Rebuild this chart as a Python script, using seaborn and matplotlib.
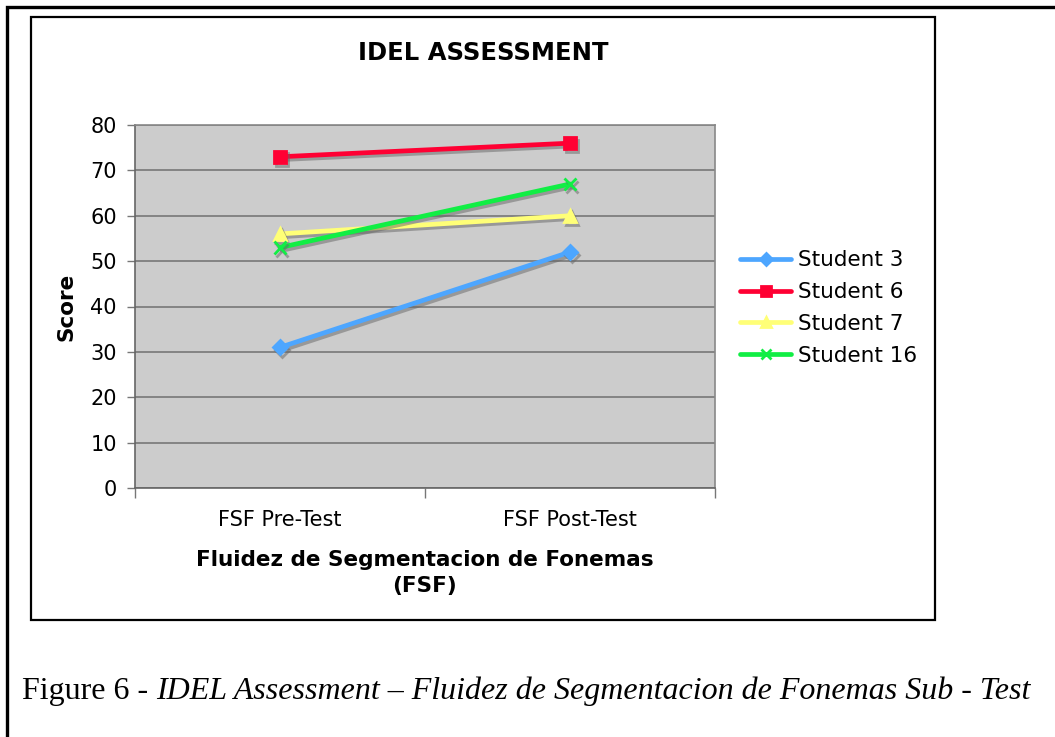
import pandas as pd
import seaborn as sns
import matplotlib.pyplot as plt
import matplotlib.patheffects as pe
from matplotlib.patches import Rectangle
from matplotlib.ticker import FixedLocator

# data
tests = ["FSF Pre-Test", "FSF Post-Test"]
students = ["Student 3", "Student 6", "Student 7", "Student 16"]
student_3 = [31, 52]
student_6 = [73, 76]
student_7 = [56, 60]
student_16 = [53, 67]

colors = ["#4DA6FF", "#FF0033", "#FFFF77", "#11EE44"]
markers = ["D", "s", "^", "x"]
msizes = [7, 9, 9, 9]

rows = []
for name, vals in zip(students, [student_3, student_6, student_7, student_16]):
    for t, v in zip(tests, vals):
        rows.append({"test": t, "score": v, "student": name})
df = pd.DataFrame(rows)

sns.set_style("white")
plt.rcParams["font.family"] = ["DejaVu Sans"]
plt.rcParams["text.color"] = "black"
plt.rcParams["xtick.color"] = "black"
plt.rcParams["ytick.color"] = "black"

W, H = 1055, 737
fig = plt.figure(figsize=(W / 100, H / 100), dpi=100)

def fx(px):
    return px / W

def fy(py):
    return 1 - py / H

# outer page box and inner chart box
fig.patches.append(Rectangle((fx(7), fy(760)), fx(1070) - fx(7), fy(7) - fy(760),
                             transform=fig.transFigure, fill=False, lw=2.4, ec="black"))
fig.patches.append(Rectangle((fx(31), fy(620)), fx(935) - fx(31), fy(17) - fy(620),
                             transform=fig.transFigure, fill=False, lw=1.6, ec="black"))

ax = fig.add_axes([fx(135), fy(488), fx(715) - fx(135), fy(125) - fy(488)])
ax.set_facecolor("#CCCCCC")

shadow = [pe.SimpleLineShadow(offset=(1.5, -2), shadow_color="#666666", alpha=0.5), pe.Normal()]
for name, c, m, s in zip(students, colors, markers, msizes):
    sub = df[df["student"] == name]
    sns.lineplot(data=sub, x="test", y="score", color=c, marker=m, lw=3.4, ms=s,
                 mew=2, mec=c, mfc=c, ax=ax, zorder=3)
    ax.lines[-1].set_path_effects(shadow)

ax.set_xlim(-0.5, 1.5)
ax.set_ylim(0, 80)
ax.set_yticks(range(0, 81, 10))
ax.yaxis.grid(True, color="#777777", lw=1.2)
ax.set_axisbelow(True)
ax.tick_params(axis="y", left=True, length=6, width=1, color="#777777",
               labelcolor="black", labelsize=15, pad=7)
ax.xaxis.set_minor_locator(FixedLocator([-0.5, 0.5, 1.5]))
ax.tick_params(axis="x", which="major", length=0, labelsize=15, labelcolor="black", pad=16)
ax.tick_params(axis="x", which="minor", bottom=True, length=7, width=1, color="#777777")
for sp in ax.spines.values():
    sp.set_color("#888888")
    sp.set_linewidth(1.2)
ax.spines["left"].set_color("#666666")
ax.spines["bottom"].set_color("#666666")

ax.set_xlabel("")
ax.set_ylabel("")
fig.text(fx(67), fy(307), "Score", rotation=90, ha="center", va="center",
         fontsize=15.5, fontweight="bold")
fig.text(fx(425), fy(573), "Fluidez de Segmentacion de Fonemas\n(FSF)", ha="center",
         va="center", fontsize=15.5, fontweight="bold", linespacing=1.4)
fig.text(fx(483), fy(53), "IDEL ASSESSMENT", ha="center", va="center",
         fontsize=17.5, fontweight="bold")

handles = [plt.Line2D([], [], color=c, marker=m, lw=3.4, ms=s * 0.85, mew=2, mec=c, mfc=c)
           for c, m, s in zip(colors, markers, msizes)]
fig.legend(handles, students, loc="center left", bbox_to_anchor=(fx(729), fy(308)),
           frameon=False, fontsize=15.5, handlelength=2.4, handletextpad=0.3,
           labelspacing=0.55, borderpad=0)

# caption: plain lead then italic text
t1 = fig.text(fx(22), fy(691), "Figure 6 - ", ha="left", va="center",
              fontsize=23, family="Liberation Serif")
fig.canvas.draw()
bb = t1.get_window_extent()
fig.text(bb.x1 / W, fy(691), "IDEL Assessment \u2013 Fluidez de Segmentacion de Fonemas Sub - Test",
         ha="left", va="center", fontsize=23, family="Liberation Serif", style="italic")

fig.savefig("out.png", dpi=100)
